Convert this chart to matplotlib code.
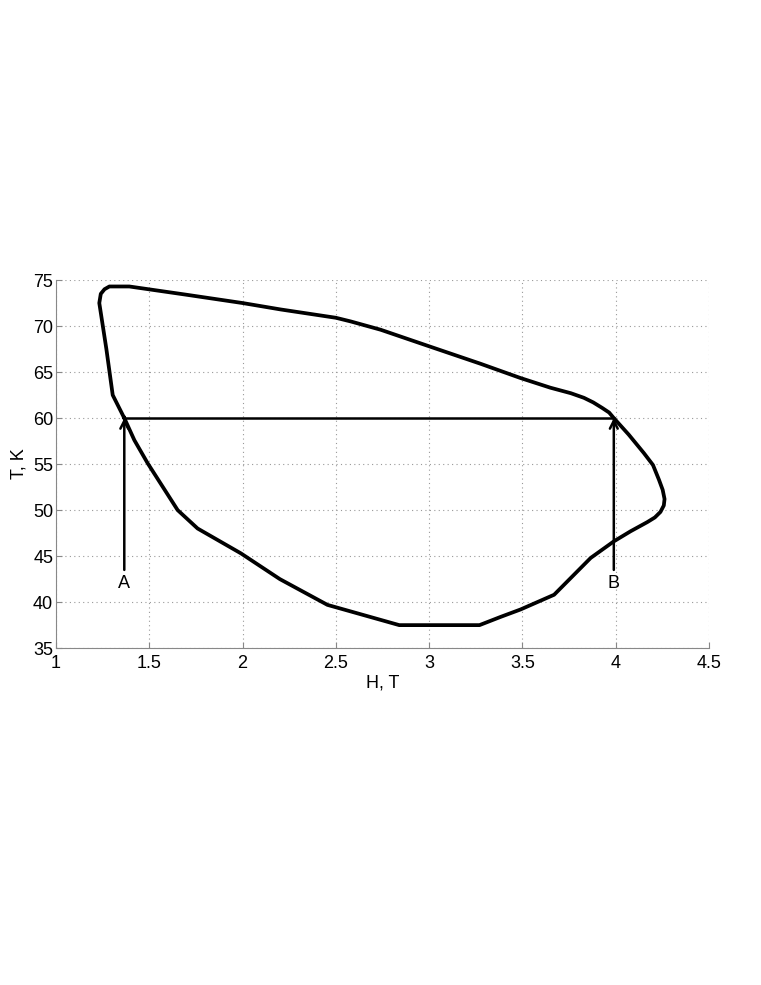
import numpy as np
import matplotlib.pyplot as plt

plt.rcParams['font.family'] = ['Liberation Sans', 'DejaVu Sans']

# closed loop, T(H)
loop_h = [1.366, 1.304, 1.27, 1.232, 1.24, 1.26, 1.286, 1.393, 1.7, 2.0, 2.205, 2.5,
          2.58, 2.74, 3.0, 3.276, 3.49, 3.65, 3.76, 3.83, 3.88, 3.928, 3.965, 3.99,
          4.07, 4.151, 4.2, 4.232, 4.252, 4.262, 4.258, 4.24, 4.21, 4.17, 4.08, 3.99,
          3.866, 3.67, 3.49, 3.384, 3.27, 2.84, 2.455, 2.2, 1.991, 1.759, 1.652,
          1.491, 1.42, 1.366]
loop_t = [60.0, 62.5, 67.5, 72.5, 73.5, 74.0, 74.3, 74.3, 73.4, 72.5, 71.8, 70.9,
          70.5, 69.6, 67.8, 65.9, 64.35, 63.3, 62.7, 62.2, 61.7, 61.1, 60.6, 60.0,
          58.2, 56.2, 54.9, 53.3, 52.2, 51.2, 50.5, 49.8, 49.2, 48.7, 47.7, 46.6,
          44.8, 40.8, 39.2, 38.4, 37.5, 37.5, 39.7, 42.5, 45.3, 48.0, 50.0, 55.1,
          57.6, 60.0]

h_a, h_b = 1.366, 3.99
t_line = 60.0
t_arrow_start = 43.5
labels = ['A', 'B']
label_t = 42.0

fig = plt.figure(figsize=(7.61, 9.85), dpi=100)
ax = fig.add_axes([0.0736, 0.342, 0.858, 0.3737])

ax.plot(loop_h, loop_t, color='black', linewidth=2.7, solid_joinstyle='round')
ax.plot([h_a, h_b], [t_line, t_line], color='black', linewidth=1.8)

for h, lab in zip([h_a, h_b], labels):
    ax.annotate('', xy=(h, t_line), xytext=(h, t_arrow_start),
                arrowprops=dict(arrowstyle='->', color='black', lw=1.8,
                                shrinkA=0, shrinkB=0, mutation_scale=14))
    ax.text(h, label_t, lab, ha='center', va='center', fontsize=13)

ax.set_xlim(1, 4.5)
ax.set_ylim(35, 75)
ax.set_xticks(np.arange(1, 4.51, 0.5))
ax.set_xticklabels(['1', '1.5', '2', '2.5', '3', '3.5', '4', '4.5'])
ax.set_yticks(np.arange(35, 76, 5))
ax.grid(True, linestyle=(0, (1, 3)), color='#999999', linewidth=0.8)
ax.tick_params(direction='in', labelsize=13, color='#888888', length=4)
ax.tick_params(axis='x', pad=5)
ax.tick_params(axis='y', pad=2)
for s in ['top', 'right']:
    ax.spines[s].set_visible(False)
for s in ['left', 'bottom']:
    ax.spines[s].set_color('#888888')
ax.set_xlabel('H, T', fontsize=13, labelpad=2)
ax.set_ylabel('T, K', fontsize=13, labelpad=4)

fig.savefig('out.png', dpi=100)
